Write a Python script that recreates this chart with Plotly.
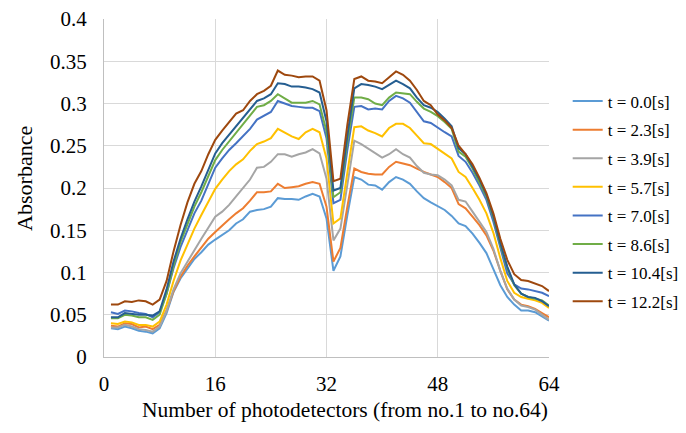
import plotly.graph_objects as go

detector = list(range(1, 65))

t_labels = ["t = 0.0[s]", "t = 2.3[s]", "t = 3.9[s]", "t = 5.7[s]",
            "t = 7.0[s]", "t = 8.6[s]", "t = 10.4[s]", "t = 12.2[s]"]

colors = ["#5B9BD5", "#ED7D31", "#A5A5A5", "#FFC000",
          "#4472C4", "#70AD47", "#255E91", "#9E480E"]

abs_t00 = [0.034, 0.033, 0.036, 0.034, 0.031, 0.030, 0.028, 0.034, 0.052, 0.077,
           0.093, 0.105, 0.116, 0.124, 0.133, 0.139, 0.145, 0.150, 0.158, 0.163,
           0.172, 0.174, 0.175, 0.178, 0.188, 0.187, 0.187, 0.186, 0.190, 0.193,
           0.190, 0.164, 0.102, 0.119, 0.168, 0.213, 0.210, 0.204, 0.203, 0.198,
           0.207, 0.213, 0.210, 0.205, 0.196, 0.188, 0.183, 0.178, 0.174, 0.167,
           0.158, 0.155, 0.146, 0.135, 0.123, 0.104, 0.085, 0.071, 0.062, 0.055,
           0.055, 0.053, 0.048, 0.043]
abs_t23 = [0.037, 0.036, 0.040, 0.039, 0.035, 0.036, 0.033, 0.038, 0.055, 0.078,
           0.095, 0.108, 0.119, 0.130, 0.140, 0.148, 0.156, 0.163, 0.170, 0.176,
           0.185, 0.195, 0.195, 0.196, 0.205, 0.200, 0.201, 0.202, 0.205, 0.207,
           0.205, 0.178, 0.113, 0.129, 0.178, 0.223, 0.219, 0.217, 0.216, 0.216,
           0.225, 0.231, 0.229, 0.227, 0.223, 0.219, 0.216, 0.213, 0.207, 0.200,
           0.181, 0.176, 0.166, 0.156, 0.144, 0.126, 0.102, 0.080, 0.068, 0.062,
           0.060, 0.057, 0.052, 0.047]
abs_t39 = [0.035, 0.035, 0.038, 0.036, 0.033, 0.032, 0.030, 0.036, 0.055, 0.080,
           0.099, 0.113, 0.126, 0.140, 0.153, 0.166, 0.172, 0.180, 0.190, 0.200,
           0.210, 0.224, 0.225, 0.231, 0.240, 0.240, 0.237, 0.240, 0.242, 0.246,
           0.241, 0.211, 0.138, 0.152, 0.205, 0.256, 0.252, 0.247, 0.241, 0.236,
           0.240, 0.246, 0.240, 0.236, 0.226, 0.218, 0.216, 0.215, 0.210, 0.203,
           0.186, 0.184, 0.172, 0.160, 0.148, 0.128, 0.102, 0.081, 0.068, 0.061,
           0.059, 0.056, 0.050, 0.044]
abs_t57 = [0.040, 0.039, 0.042, 0.041, 0.038, 0.038, 0.036, 0.042, 0.062, 0.090,
           0.114, 0.133, 0.152, 0.168, 0.184, 0.199, 0.210, 0.220, 0.228, 0.234,
           0.244, 0.252, 0.255, 0.259, 0.270, 0.265, 0.261, 0.258, 0.266, 0.270,
           0.266, 0.235, 0.158, 0.164, 0.220, 0.272, 0.273, 0.268, 0.265, 0.261,
           0.271, 0.276, 0.276, 0.271, 0.262, 0.253, 0.252, 0.246, 0.241, 0.235,
           0.219, 0.213, 0.200, 0.186, 0.170, 0.147, 0.117, 0.090, 0.076, 0.071,
           0.069, 0.067, 0.064, 0.058]
abs_t70 = [0.053, 0.051, 0.055, 0.054, 0.052, 0.051, 0.047, 0.053, 0.075, 0.105,
           0.130, 0.150, 0.170, 0.185, 0.205, 0.224, 0.235, 0.245, 0.253, 0.261,
           0.270, 0.281, 0.286, 0.290, 0.303, 0.300, 0.297, 0.296, 0.295, 0.295,
           0.291, 0.259, 0.182, 0.186, 0.245, 0.296, 0.297, 0.293, 0.294, 0.293,
           0.303, 0.309, 0.306, 0.301, 0.290, 0.279, 0.277, 0.271, 0.266, 0.261,
           0.238, 0.231, 0.218, 0.203, 0.186, 0.160, 0.128, 0.099, 0.086, 0.081,
           0.080, 0.078, 0.076, 0.072]
abs_t86 = [0.046, 0.046, 0.050, 0.049, 0.047, 0.047, 0.044, 0.050, 0.075, 0.108,
           0.136, 0.158, 0.178, 0.195, 0.214, 0.233, 0.245, 0.255, 0.265, 0.276,
           0.286, 0.296, 0.298, 0.303, 0.311, 0.306, 0.301, 0.301, 0.301, 0.303,
           0.299, 0.267, 0.189, 0.195, 0.255, 0.307, 0.307, 0.305, 0.300, 0.298,
           0.307, 0.313, 0.312, 0.311, 0.302, 0.294, 0.290, 0.285, 0.278, 0.270,
           0.243, 0.237, 0.223, 0.207, 0.190, 0.165, 0.133, 0.105, 0.085, 0.075,
           0.071, 0.069, 0.067, 0.061]
abs_t104 = [0.047, 0.047, 0.052, 0.051, 0.050, 0.050, 0.049, 0.054, 0.080, 0.113,
            0.140, 0.163, 0.184, 0.202, 0.222, 0.241, 0.253, 0.263, 0.272, 0.282,
            0.293, 0.303, 0.306, 0.311, 0.324, 0.323, 0.320, 0.320, 0.319, 0.317,
            0.313, 0.279, 0.197, 0.200, 0.262, 0.318, 0.323, 0.322, 0.320, 0.317,
            0.322, 0.327, 0.323, 0.318, 0.307, 0.298, 0.295, 0.290, 0.282, 0.273,
            0.247, 0.240, 0.225, 0.210, 0.192, 0.167, 0.135, 0.107, 0.086, 0.075,
            0.071, 0.070, 0.066, 0.060]
abs_t122 = [0.062, 0.062, 0.066, 0.065, 0.067, 0.066, 0.062, 0.068, 0.090, 0.125,
            0.156, 0.183, 0.205, 0.220, 0.240, 0.257, 0.268, 0.278, 0.288, 0.292,
            0.303, 0.311, 0.315, 0.321, 0.339, 0.334, 0.333, 0.331, 0.332, 0.332,
            0.327, 0.292, 0.208, 0.211, 0.275, 0.329, 0.332, 0.327, 0.326, 0.324,
            0.331, 0.338, 0.334, 0.327, 0.316, 0.303, 0.298, 0.287, 0.280, 0.271,
            0.250, 0.240, 0.228, 0.212, 0.194, 0.170, 0.140, 0.115, 0.098, 0.091,
            0.090, 0.087, 0.084, 0.078]

series = [abs_t00, abs_t23, abs_t39, abs_t57, abs_t70, abs_t86, abs_t104, abs_t122]

x_ticks = [0, 16, 32, 48, 64]
y_ticks = [0, 0.05, 0.1, 0.15, 0.2, 0.25, 0.3, 0.35, 0.4]
y_ticktext = ["0", "0.05", "0.1", "0.15", "0.2", "0.25", "0.3", "0.35", "0.4"]

x_title = "Number of photodetectors (from no.1 to no.64)"
y_title = "Absorbance"

FONT = "Liberation Serif"

fig = go.Figure()
for i, (name, vals) in enumerate(zip(t_labels, series)):
    fig.add_trace(go.Scatter(
        x=detector, y=vals, mode="lines", name=name,
        legendgroup=name,
        line=dict(color=colors[i], width=2),
    ))

fig.update_layout(
    template="none",
    width=686, height=433,
    margin=dict(l=104, r=137, t=19, b=76, autoexpand=False),
    paper_bgcolor="white", plot_bgcolor="white",
    font=dict(family=FONT, size=21, color="#000000"),
    showlegend=True,
    legend=dict(
        x=1.042, xanchor="left", y=0.46, yanchor="middle",
        font=dict(family=FONT, size=17, color="#000000"),
        tracegroupgap=3.5, itemwidth=30,
        bgcolor="rgba(0,0,0,0)",
    ),
    annotations=[
        dict(text=x_title, xref="paper", yref="paper",
             x=0.5416, y=-0.157, xanchor="center", yanchor="middle",
             showarrow=False, font=dict(family=FONT, size=21.5, color="#000000")),
        dict(text=y_title, xref="paper", yref="paper", textangle=-90,
             x=-0.1775, y=0.527, xanchor="center", yanchor="middle",
             showarrow=False, font=dict(family=FONT, size=22, color="#000000")),
    ],
)

fig.update_xaxes(
    range=[0, 64], tickmode="array", tickvals=x_ticks,
    showgrid=True, gridcolor="#D9D9D9", gridwidth=1,
    showline=True, linecolor="#BFBFBF", linewidth=1,
    zeroline=False, ticks="", ticklabelstandoff=8,
    tickfont=dict(family=FONT, size=21, color="#000000"),
)
fig.update_yaxes(
    range=[0, 0.4], tickmode="array", tickvals=y_ticks, ticktext=y_ticktext,
    showgrid=True, gridcolor="#D9D9D9", gridwidth=1,
    showline=True, linecolor="#BFBFBF", linewidth=1,
    zeroline=False, ticks="", ticklabelstandoff=12,
    tickfont=dict(family=FONT, size=21, color="#000000"),
)

fig.write_html("out.html")
